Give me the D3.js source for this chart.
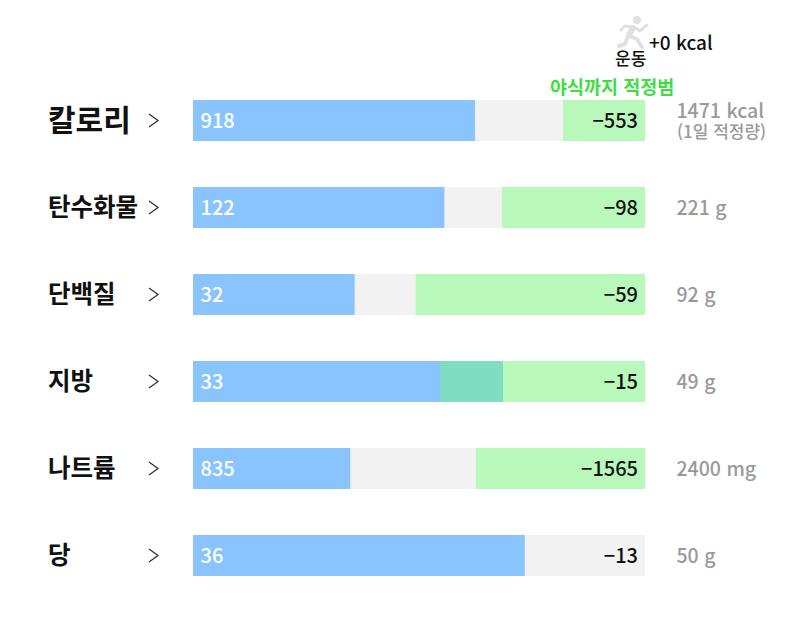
<!DOCTYPE html>
<html lang="ko">
<head>
<meta charset="utf-8">
<title>영양 섭취 현황</title>
<script src="https://cdn.jsdelivr.net/npm/d3@7/dist/d3.min.js"></script>
<style>
  html, body { margin: 0; padding: 0; background: #fff; }
  svg { display: block; }
  text { font-family: "Noto Sans CJK KR", sans-serif; }
</style>
</head>
<body>
<svg id="chart" width="800" height="619"></svg>
<script>
// Daily intake per nutrient; labels show the values truncated to whole numbers.
const nutrients = ["칼로리", "탄수화물", "단백질", "지방", "나트륨", "당"];
const intake = [918, 122.9, 32.9, 33.6, 835, 36.7];
const dailyLimit = [1471, 221, 92, 49, 2400, 50];
const units = ["kcal", "g", "g", "g", "mg", "g"];
// Amount at which the "safe until a late-night snack" band begins (sugar has none).
const snackBandStart = [1204, 151, 45.3, 26.8, 1502, null];

const exerciseKcal = 0;

const colors = { intake: "#8ac4fe", track: "#f2f2f2", band: "#b9f8bb", overlap: "#7fdec1" };

const svg = d3.select("#chart");
const rows = d3.scaleBand().domain(nutrients).range([100, 576]).paddingInner(46 / 87);
const barRange = [193, 645];

const data = nutrients.map((name, i) => ({
  name, value: intake[i], limit: dailyLimit[i], unit: units[i], band: snackBandStart[i],
  x: d3.scaleLinear().domain([0, dailyLimit[i]]).range(barRange)
}));

const row = svg.selectAll("g.row").data(data).join("g")
  .attr("class", "row")
  .attr("transform", d => `translate(0,${rows(d.name)})`);

const h = rows.bandwidth();

// Full-day track
row.append("rect").attr("x", barRange[0]).attr("width", barRange[1] - barRange[0])
  .attr("height", h).attr("fill", colors.track);

// Snack allowance band, running up to the daily limit
row.filter(d => d.band !== null).append("rect")
  .attr("x", d => d.x(d.band)).attr("width", d => d.x(d.limit) - d.x(d.band))
  .attr("height", h).attr("fill", colors.band);

// Amount consumed so far
row.append("rect").attr("x", barRange[0]).attr("width", d => d.x(d.value) - barRange[0])
  .attr("height", h).attr("fill", colors.intake);

// Where intake already runs into the allowance band
row.filter(d => d.band !== null && d.value > d.band).append("rect")
  .attr("x", d => d.x(d.band)).attr("width", d => d.x(d.value) - d.x(d.band))
  .attr("height", h).attr("fill", colors.overlap);

// Nutrient names
row.append("text").attr("x", 48).attr("y", h / 2)
  .attr("dy", (d, i) => i === 0 ? 10 : 8)
  .attr("font-size", (d, i) => i === 0 ? 30 : 24.5)
  .attr("font-weight", 700).attr("fill", "#111")
  .text(d => d.name);

// Chevrons
row.append("path")
  .attr("d", `M149,${h / 2 - 6.5} L158,${h / 2} L149,${h / 2 + 6.5}`)
  .attr("fill", "none").attr("stroke", "#333").attr("stroke-width", 1.3);

// Intake value inside the bar
row.append("text").attr("x", 200.5).attr("y", h / 2).attr("dy", 7.5)
  .attr("font-size", 20).attr("font-weight", 500).attr("fill", "#fff")
  .text(d => Math.trunc(d.value));

// Remaining amount
row.append("text").attr("x", 638).attr("y", h / 2).attr("dy", 7.5)
  .attr("text-anchor", "end").attr("font-size", 20).attr("font-weight", 500).attr("fill", "#111")
  .text(d => "−" + Math.abs(Math.trunc(d.value - d.limit)));

// Daily limit to the right of each bar
row.append("text").attr("x", 676.5).attr("y", (d, i) => i === 0 ? 18 : h / 2 + 7.5)
  .attr("font-size", 19.5).attr("font-weight", 500).attr("fill", "#999")
  .text(d => `${d.limit} ${d.unit}`);

svg.append("text").attr("x", 677).attr("y", 138)
  .attr("font-size", 17).attr("fill", "#999").attr("font-weight", 500).text("(1일 적정량)");

// Band caption over the calorie row
svg.append("text").attr("x", 550).attr("y", 93.5)
  .attr("font-size", 18.5).attr("font-weight", 700).attr("fill", "#3adf3f").text("야식까지 적정범");

// Exercise badge: running figure, caption and burned calories
const runner = svg.append("g").attr("fill", "none").attr("stroke", "#e0e0e0")
  .attr("stroke-linecap", "round").attr("stroke-linejoin", "round");
runner.append("circle").attr("cx", 637).attr("cy", 20).attr("r", 4)
  .attr("fill", "#e0e0e0").attr("stroke", "none");
runner.append("path").attr("stroke-width", 6).attr("d", "M633,28 L629,35");
runner.append("path").attr("stroke-width", 4).attr("d", "M629,36 L637,39 L642,47");
runner.append("path").attr("stroke-width", 4).attr("d", "M628,36 L625,44 L619,46");
runner.append("path").attr("stroke-width", 3).attr("d", "M634,27 L640,31 L647,25");
runner.append("path").attr("stroke-width", 3).attr("d", "M632,27 L625,26 L621,30");

svg.append("text").attr("x", 615).attr("y", 65)
  .attr("font-size", 17).attr("font-weight", 500).attr("fill", "#111").text("운동");
svg.append("text").attr("x", 649).attr("y", 50)
  .attr("font-size", 19).attr("font-weight", 500).attr("fill", "#111").text(`+${exerciseKcal} kcal`);
</script>
</body>
</html>
